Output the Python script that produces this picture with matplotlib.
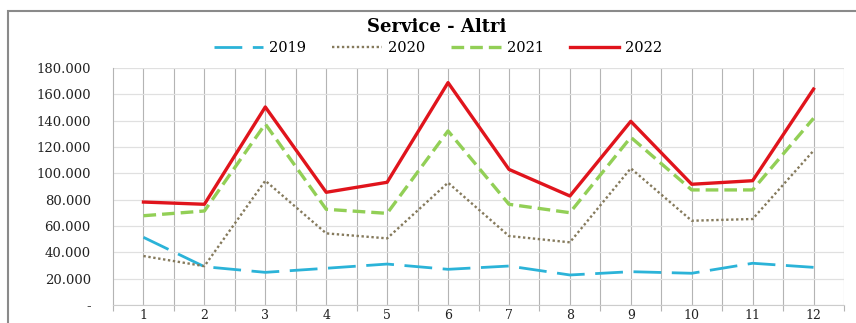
import numpy as np
import matplotlib
matplotlib.use("Agg")
import matplotlib.pyplot as plt
from matplotlib.patches import Rectangle
from matplotlib.ticker import FuncFormatter

# dati
mesi = list(range(1, 13))
v2019 = [51400, 29100, 24800, 27900, 31100, 27100, 29600, 22800, 25300, 24100, 31700, 28600]
v2020 = [37200, 29500, 94400, 54400, 50600, 92900, 52400, 47600, 103800, 64000, 65300, 117200]
v2021 = [67800, 71400, 137500, 72700, 69600, 132200, 76500, 70100, 127400, 87400, 87400, 141800]
v2022 = [78200, 76500, 150400, 85600, 93200, 168900, 103000, 82800, 139500, 91700, 94400, 164000]
anni = ["2019", "2020", "2021", "2022"]
titolo = "Service - Altri"

plt.rcParams['font.family'] = ['DejaVu Serif']

fig = plt.figure(figsize=(8.56, 3.23), dpi=100)
ax = fig.add_axes([113/856, 1-305/323, (844-113)/856, (305-68)/323])

# cornice esterna (tagliata a destra e in basso)
fig.patches.append(Rectangle((8/856, -0.1), 1.0, 1-11/323+0.1, transform=fig.transFigure,
                             fill=False, edgecolor='#8a8a8a', linewidth=1.5))

l1, = ax.plot(mesi, v2019, color='#2bb3d8', lw=2.0, dashes=(10, 3.8), label=anni[0])
l2, = ax.plot(mesi, v2020, color='#857a5c', lw=1.7, dashes=(1, 1.1), label=anni[1])
l3, = ax.plot(mesi, v2021, color='#92cf56', lw=2.4, dashes=(3.8, 1.8), label=anni[2])
l4, = ax.plot(mesi, v2022, color='#e0141c', lw=2.4, label=anni[3])

ax.set_xlim(0.5, 12.5)
ax.set_ylim(0, 180000)
ax.set_yticks(np.arange(0, 180001, 20000))
ax.yaxis.set_major_formatter(FuncFormatter(lambda v, p: "-" if v == 0 else f"{int(v):,}".replace(",", ".")))
ax.set_xticks(mesi)
ax.set_xticks(np.arange(0.5, 12.6, 1), minor=True)

ax.grid(axis='y', color='#e0e0e0', lw=0.9)
for x in np.arange(1, 12.6, 0.5):
    ax.axvline(x, color='#b4b4b4', lw=0.8, zorder=0.5)

for s in ['top', 'right']:
    ax.spines[s].set_visible(False)
ax.spines['left'].set_color('#b4b4b4')
ax.spines['left'].set_linewidth(0.8)
ax.spines['bottom'].set_color('#cccccc')

ax.tick_params(axis='x', which='major', length=0, pad=3, labelsize=9)
ax.tick_params(axis='x', which='minor', length=4, color='#b4b4b4', width=0.8)
ax.tick_params(axis='y', length=0, pad=16, labelsize=9.5)
for t in ax.get_xticklabels() + ax.get_yticklabels():
    t.set_color('#222222')

fig.text(437/856, 1-27/323, titolo, ha='center', va='center', fontsize=13, fontweight='bold')
fig.legend(handles=[l1, l2, l3, l4], loc='center', bbox_to_anchor=(438/856, 1-48/323), ncol=4,
           frameon=False, fontsize=10.5, handlelength=3.4, handletextpad=0.4, columnspacing=1.8)

fig.savefig("out.png", dpi=100)
